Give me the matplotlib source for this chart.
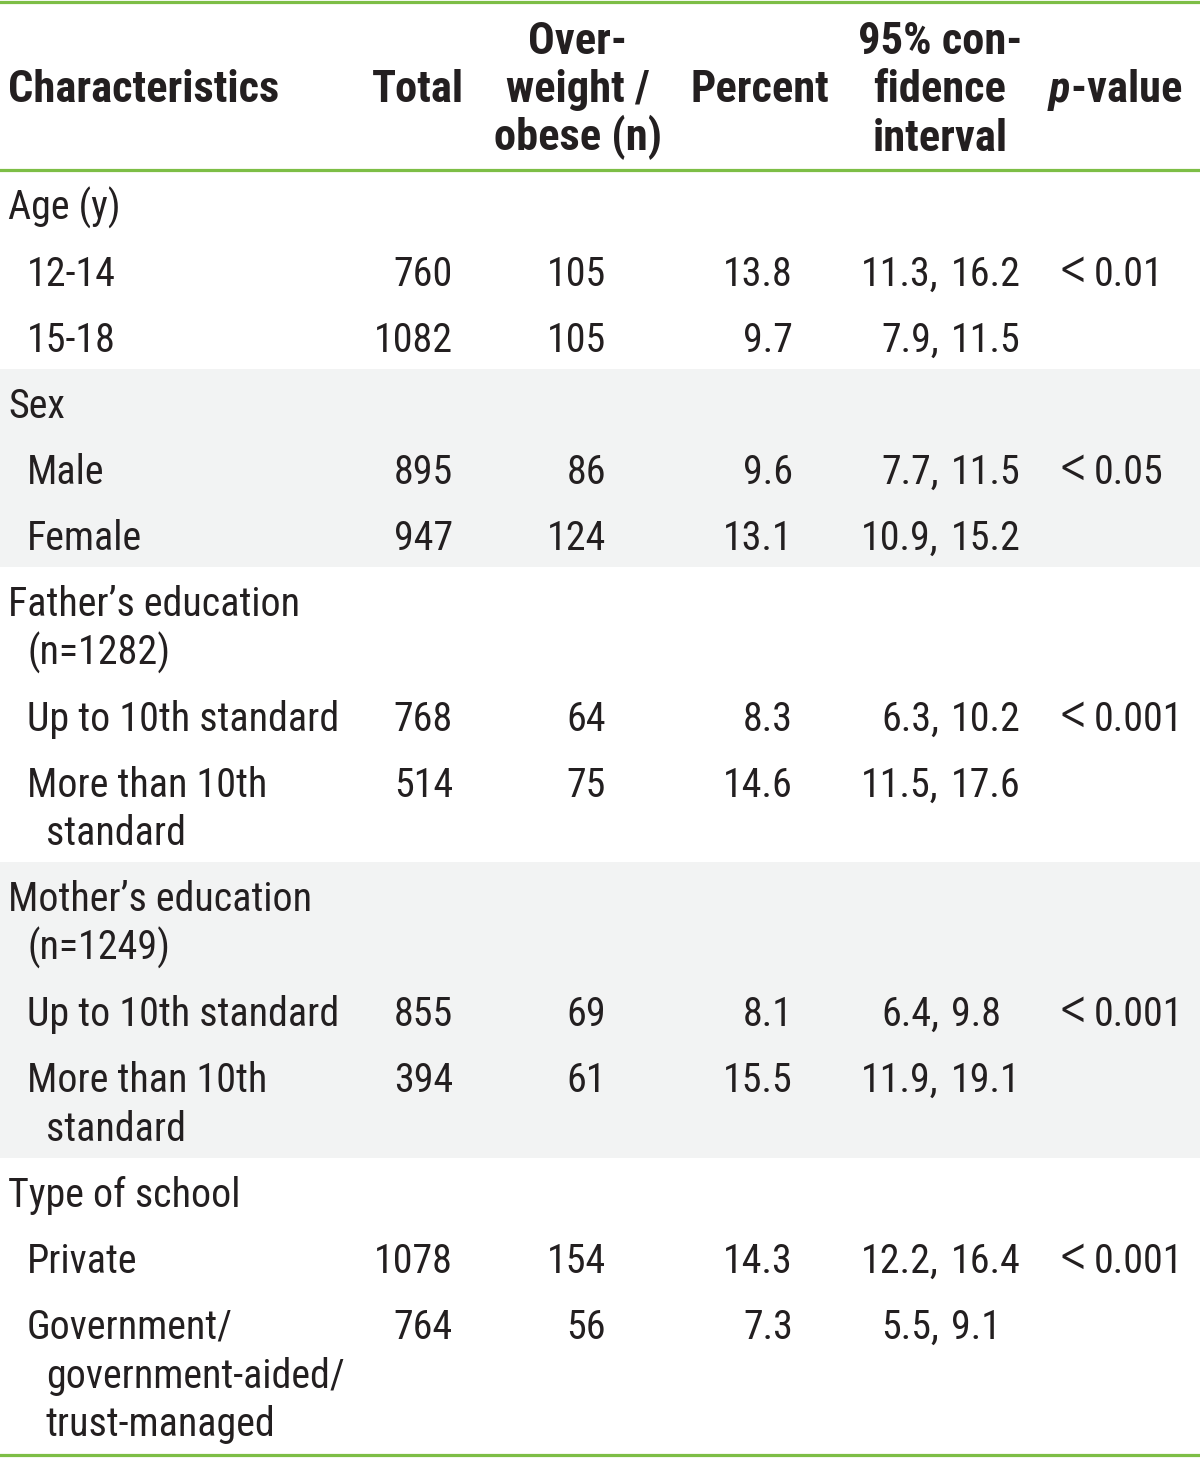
import matplotlib
matplotlib.use("Agg")
import matplotlib.pyplot as plt
from matplotlib import font_manager

# -- pick a narrow sans if one is installed --
FONT = "DejaVu Sans"
for cand in ["Roboto Condensed", "Liberation Sans Narrow", "Open Sans Condensed"]:
    try:
        font_manager.findfont(cand, fallback_to_default=False)
        FONT = cand
        break
    except Exception:
        pass

plt.rcParams.update({
    "font.family": [FONT, "DejaVu Sans"],
    "mathtext.fontset": "custom",
    "mathtext.it": f"{FONT}:italic:bold",
    "mathtext.rm": f"{FONT}:bold",
})

GREEN = "#7DBE46"
BAND = "#F2F3F3"
INK = "#231F20"

# -- table data --
group_labels = ["Age (y)", "Sex", "Father\u2019s education\n(n=1282)",
                "Mother\u2019s education\n(n=1249)", "Type of school"]
sub_labels = [
    ["12-14", "15-18"],
    ["Male", "Female"],
    ["Up to 10th standard", "More than 10th\nstandard"],
    ["Up to 10th standard", "More than 10th\nstandard"],
    ["Private", "Government/\ngovernment-aided/\ntrust-managed"],
]
totals = [760, 1082, 895, 947, 768, 514, 855, 394, 1078, 764]
overweight = [105, 105, 86, 124, 64, 75, 69, 61, 154, 56]
percent = [13.8, 9.7, 9.6, 13.1, 8.3, 14.6, 8.1, 15.5, 14.3, 7.3]
ci_low = [11.3, 7.9, 7.7, 10.9, 6.3, 11.5, 6.4, 11.9, 12.2, 5.5]
ci_high = [16.2, 11.5, 11.5, 15.2, 10.2, 17.6, 9.8, 19.1, 16.4, 9.1]
p_values = ["0.01", "0.05", "0.001", "0.001", "0.001"]

headers = ["Characteristics", "Total", "Over-\nweight /\nobese (n)", "Percent",
           "95% con-\nfidence\ninterval", r"$\mathit{p}$-value"]
header_x = [8, 418, 578, 760, 940, 1115]

W, H = 1200, 1458
fig = plt.figure(figsize=(W / 100, H / 100), dpi=100)
ax = fig.add_axes([0, 0, 1, 1])
ax.set_xlim(0, W)
ax.set_ylim(H, 0)
ax.axis("off")

FS = 28.8        # body
FS_H = 32        # header
LINE = 48.7      # px between wrapped lines
ROW = 66.0       # px for a single-line row
BASE = 49        # baseline offset from row top
HEAD_BOT = 171

def put(x, y_top, text, indent2=19):
    lines = text.split("\n")
    for k, line in enumerate(lines):
        xx = x + (indent2 if k > 0 else 0)
        ax.text(xx, y_top + BASE + k * LINE, line, ha="left", va="baseline",
                fontsize=FS, color=INK)
    return ROW + LINE * (len(lines) - 1)

# header
for i, (h, x) in enumerate(zip(headers, header_x)):
    lines = h.split("\n")
    n = len(lines)
    for k, line in enumerate(lines):
        yc = 86 + (k - (n - 1) / 2) * 48.5
        ax.text(x, yc + 16, line, ha="left" if i == 0 else "center",
                va="baseline", fontsize=FS_H, fontweight="bold", color=INK)

# body
y = HEAD_BOT
r = 0
for g, (glab, subs) in enumerate(zip(group_labels, sub_labels)):
    g_top = y
    nrows = len(glab.split("\n")) + sum(len(s.split("\n")) for s in subs)
    g_h = ROW * (1 + len(subs)) + LINE * (nrows - 1 - len(subs))
    if g % 2 == 1:
        ax.axhspan(g_top, g_top + g_h, color=BAND, lw=0, zorder=0)
    y += put(8, y, glab)
    for j, s in enumerate(subs):
        put(27, y, s)
        yb = y + BASE
        kw = dict(va="baseline", fontsize=FS, color=INK)
        ax.text(453, yb, f"{totals[r]}", ha="right", **kw)
        ax.text(606, yb, f"{overweight[r]}", ha="right", **kw)
        ax.text(793, yb, f"{percent[r]:.1f}", ha="right", **kw)
        ax.text(939, yb, f"{ci_low[r]:.1f},", ha="right", **kw)
        ax.text(951, yb, f"{ci_high[r]:.1f}", ha="left", **kw)
        if j == 0:
            ax.text(1060, yb - 14, "<", ha="left", va="center", fontsize=FS * 1.55,
                    color=INK, fontweight="light")
            ax.text(1094, yb, p_values[g], ha="left", **kw)
        y += ROW + LINE * (len(s.split("\n")) - 1)
        r += 1

for yy in [1.5, HEAD_BOT - 1.5, H - 3]:
    ax.axhline(yy, color=GREEN, lw=2.3)

fig.savefig("out.png", dpi=100)
